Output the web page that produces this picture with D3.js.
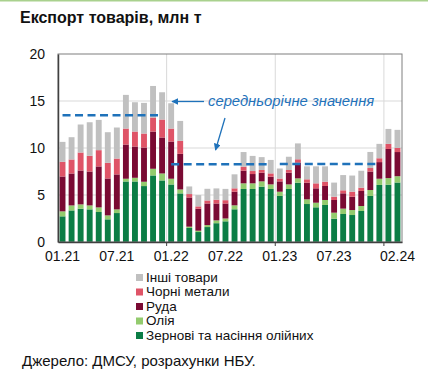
<!DOCTYPE html>
<html>
<head>
<meta charset="utf-8">
<script src="https://cdn.jsdelivr.net/npm/d3@7"></script>
<style>
  body { margin: 0; background: #fff; }
  svg { display: block; font-family: "Liberation Sans", Arial, sans-serif; }
</style>
</head>
<body>
<div id="chart"></div>
<script>
const width = 428;
const height = 374;

const months = ["01.21","02.21","03.21","04.21","05.21","06.21","07.21","08.21","09.21","10.21","11.21","12.21",
  "01.22","02.22","03.22","04.22","05.22","06.22","07.22","08.22","09.22","10.22","11.22","12.22",
  "01.23","02.23","03.23","04.23","05.23","06.23","07.23","08.23","09.23","10.23","11.23","12.23",
  "01.24","02.24"];

// млн т
const grain = [2.73,3.36,3.54,3.47,3.19,2.41,3.08,6.44,6.44,5.95,7.08,6.55,
  6.12,5.17,1.49,1.06,1.59,2.00,2.20,3.48,5.64,5.64,5.89,5.64,
  4.90,5.64,6.31,4.04,3.69,3.94,2.48,2.98,2.87,3.30,4.90,6.07,
  6.10,6.33];
const oil = [0.53,0.53,0.46,0.42,0.49,0.42,0.39,0.29,0.39,0.46,0.71,0.74,
  0.61,0.42,0.14,0.14,0.21,0.30,0.30,0.42,0.60,0.60,0.56,0.49,
  0.45,0.49,0.46,0.50,0.49,0.53,0.64,0.57,0.53,0.53,0.63,0.66,
  0.70,0.67];
const ore = [3.71,3.40,3.61,3.61,4.36,3.93,3.72,3.64,3.33,3.64,3.96,3.83,
  3.96,3.79,3.11,2.34,2.30,1.80,1.60,1.45,1.35,0.99,0.93,0.82,
  1.10,1.25,1.67,1.77,1.53,1.49,1.35,1.63,1.42,1.60,1.97,1.77,
  3.10,2.57];
const metals = [1.56,1.49,1.91,1.67,1.73,1.66,1.69,1.70,1.59,1.49,1.49,1.91,
  1.38,1.38,0.36,0.25,0.32,0.40,0.35,0.36,0.42,0.32,0.28,0.35,
  0.30,0.28,0.36,0.36,0.53,0.46,0.35,0.32,0.53,0.35,0.37,0.41,
  0.54,0.43];
const other = [2.12,2.37,2.98,3.57,3.22,3.26,3.30,3.58,3.12,3.26,3.36,2.90,
  2.69,2.12,0.81,1.20,1.24,1.20,1.20,1.49,1.56,1.61,1.37,1.43,
  1.07,1.41,1.69,1.38,1.81,1.63,1.50,1.62,1.72,1.80,1.71,1.53,
  1.59,1.93];

const seriesKeys = ["grain", "oil", "ore", "metals", "other"];
const seriesNames = {
  grain: "Зернові та насіння олійних",
  oil: "Олія",
  ore: "Руда",
  metals: "Чорні метали",
  other: "Інші товари"
};
const colors = {
  grain: "#0B7D45",
  oil: "#93CB6E",
  ore: "#7A0A33",
  metals: "#DF5467",
  other: "#C0C0C0"
};
const legendOrder = ["other", "metals", "ore", "oil", "grain"];

const xTickLabels = ["01.21","07.21","01.22","07.22","01.23","07.23","02.24"];
const yTicks = [0, 5, 10, 15, 20];
const yearGridMonths = ["01.22", "01.23", "01.24"];
// periods for the yearly average lines
const avgPeriods = [["01.21", "12.21"], ["01.22", "12.22"], ["01.23", "12.23"]];

const table = months.map((m, i) => ({
  month: m, grain: grain[i], oil: oil[i], ore: ore[i], metals: metals[i], other: other[i]
}));

const margin = { top: 54, right: 26, bottom: 132, left: 58 };
const innerW = width - margin.left - margin.right;
const innerH = height - margin.top - margin.bottom;

const svg = d3.select("#chart")
  .append("svg")
  .attr("width", width)
  .attr("height", height);

// thin green line at the top of the panel
svg.append("rect")
  .attr("x", 0).attr("y", 0)
  .attr("width", width).attr("height", 1.5)
  .attr("fill", "#A9D18E");

svg.append("text")
  .attr("x", 20)
  .attr("y", 23)
  .attr("font-size", "16px")
  .attr("font-weight", "bold")
  .attr("fill", "#111")
  .text("Експорт товарів, млн т");

const g = svg.append("g").attr("transform", `translate(${margin.left},${margin.top})`);

const x = d3.scaleBand()
  .domain(months)
  .range([0, innerW])
  .paddingInner(0.35)
  .paddingOuter(0.175);

const y = d3.scaleLinear().domain([0, 20]).range([innerH, 0]);

// horizontal grid
g.selectAll(".hgrid")
  .data(yTicks.filter(t => t > 0 && t < 20))
  .enter().append("line")
  .attr("x1", 0).attr("x2", innerW)
  .attr("y1", d => y(d)).attr("y2", d => y(d))
  .attr("stroke", "#D9D9D9")
  .attr("stroke-width", 1);

// vertical grid at year starts (band boundary before January)
const step = x.step();
const yearX = m => months.indexOf(m) * step;
g.selectAll(".vgrid")
  .data(yearGridMonths)
  .enter().append("line")
  .attr("x1", d => yearX(d)).attr("x2", d => yearX(d))
  .attr("y1", 0).attr("y2", innerH)
  .attr("stroke", "#D9D9D9")
  .attr("stroke-width", 1);

// stacked bars
const stack = d3.stack().keys(seriesKeys);
const layers = stack(table);

g.selectAll(".layer")
  .data(layers)
  .enter().append("g")
  .attr("fill", d => colors[d.key])
  .selectAll("rect")
  .data(d => d)
  .enter().append("rect")
  .attr("x", d => x(d.data.month))
  .attr("y", d => y(d[1]))
  .attr("width", x.bandwidth())
  .attr("height", d => y(d[0]) - y(d[1]));

// plot frame
g.append("rect")
  .attr("x", 0).attr("y", 0)
  .attr("width", innerW).attr("height", innerH)
  .attr("fill", "none")
  .attr("stroke", "#7F7F7F")
  .attr("stroke-width", 1);

// y axis
const yAxis = g.append("g")
  .call(d3.axisLeft(y).tickValues(yTicks).tickSize(0).tickPadding(13));
yAxis.select(".domain").attr("stroke", "#404040").attr("stroke-width", 1.5);
yAxis.selectAll("text")
  .attr("font-size", "14px")
  .attr("font-family", "Liberation Sans, Arial, sans-serif")
  .attr("fill", "#111");

// x axis
const xAxis = g.append("g")
  .attr("transform", `translate(0,${innerH})`)
  .call(d3.axisBottom(x).tickValues(xTickLabels).tickSize(0).tickPadding(9));
xAxis.select(".domain").attr("stroke", "#404040").attr("stroke-width", 1.5);
xAxis.selectAll("text")
  .attr("font-size", "14px")
  .attr("font-family", "Liberation Sans, Arial, sans-serif")
  .attr("fill", "#111");

g.selectAll(".xtick-mark")
  .data(yearGridMonths)
  .enter().append("line")
  .attr("x1", d => yearX(d)).attr("x2", d => yearX(d))
  .attr("y1", innerH).attr("y2", innerH + 4)
  .attr("stroke", "#404040");

// yearly averages
const blue = "#1F72BA";
const totals = table.map(d => d3.sum(seriesKeys, k => d[k]));
avgPeriods.forEach(([a, b]) => {
  const i0 = months.indexOf(a), i1 = months.indexOf(b);
  const avg = d3.mean(totals.slice(i0, i1 + 1));
  g.append("line")
    .attr("x1", x(a) + x.bandwidth() / 2)
    .attr("x2", x(b) + x.bandwidth() / 2)
    .attr("y1", y(avg)).attr("y2", y(avg))
    .attr("stroke", blue)
    .attr("stroke-width", 2.6)
    .attr("stroke-dasharray", "8,4.5");
});

// annotation
svg.append("defs").append("marker")
  .attr("id", "arrow")
  .attr("viewBox", "0 0 10 10")
  .attr("refX", 9).attr("refY", 5)
  .attr("markerWidth", 7).attr("markerHeight", 7)
  .attr("markerUnits", "userSpaceOnUse")
  .attr("orient", "auto")
  .append("path")
  .attr("d", "M0,0 L10,5 L0,10 Z")
  .attr("fill", blue);

svg.append("line")
  .attr("x1", 204).attr("y1", 101.5)
  .attr("x2", 172).attr("y2", 101.5)
  .attr("stroke", blue).attr("stroke-width", 1.3)
  .attr("marker-end", "url(#arrow)");

svg.append("line")
  .attr("x1", 225).attr("y1", 118)
  .attr("x2", 215.5).attr("y2", 150)
  .attr("stroke", blue).attr("stroke-width", 1.3)
  .attr("marker-end", "url(#arrow)");

svg.append("text")
  .attr("x", 208)
  .attr("y", 105.5)
  .attr("font-size", "14.8px")
  .attr("font-style", "italic")
  .attr("fill", blue)
  .text("середньорічне значення");

// legend
const legend = svg.append("g").attr("transform", "translate(136,274)");
legendOrder.forEach((k, i) => {
  const row = legend.append("g").attr("transform", `translate(0,${i * 14.5})`);
  row.append("rect")
    .attr("x", 0).attr("y", 0)
    .attr("width", 7).attr("height", 7)
    .attr("fill", colors[k]);
  row.append("text")
    .attr("x", 10)
    .attr("y", 7.5)
    .attr("font-size", "13.5px")
    .attr("fill", "#111")
    .text(seriesNames[k]);
});

svg.append("text")
  .attr("x", 22)
  .attr("y", 366)
  .attr("font-size", "15px")
  .attr("fill", "#111")
  .text("Джерело: ДМСУ, розрахунки НБУ.");
</script>
</body>
</html>
